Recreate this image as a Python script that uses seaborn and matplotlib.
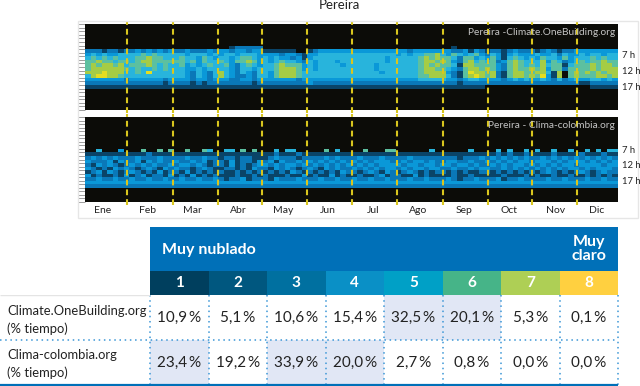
import numpy as np
import matplotlib
matplotlib.use('Agg')
import matplotlib.pyplot as plt
from matplotlib.colors import ListedColormap
from matplotlib.patches import Rectangle
import seaborn as sns

W, H = 640, 386

# Datos
meses = ['Ene', 'Feb', 'Mar', 'Abr', 'May', 'Jun', 'Jul', 'Ago', 'Sep', 'Oct', 'Nov', 'Dic']
dias_lineas = [29, 60, 91, 121, 152, 183, 214, 245, 276, 306, 337]
horas = ['7 h', '12 h', '17 h']

# cobertura de nubes, filas = horas, 8 columnas por mes
satelite_hora_ini = 6
satelite = [
    '00000000 00000000 00000000 00122222 00000000 00000000 00000000 00000000 00100000 00000000 00000000 00000000',
    '22212212 23232323 22322232 33233233 11111100 12333333 33333333 33233333 33223132 12212322 21232122 33333333',
    '34343344 44545444 44344434 34434443 33323321 33444444 44444444 34344556 43543453 24313433 34334243 34344344',
    '45454544 45565544 45443543 44345543 43433231 34444444 44444434 44445656 55425534 35314543 43544353 44454544',
    '55655455 45665555 55453544 54355653 43454432 43444344 44444434 44445665 65325645 45235654 44635423 45455655',
    '56566564 55565454 45343454 45324543 44565553 43444434 44443444 44445656 55416655 55325654 54645514 55565665',
    '56666665 45445454 44334344 44324434 44566653 43444444 44443444 44445665 54325665 65325655 65635525 55565666',
    '66676664 45474444 44324324 64324324 43566654 44444444 44444344 44445666 63215766 56215665 56641605 65656566',
    '46776654 44444444 44324324 64322324 43566654 44444444 44444444 44445566 64215676 56215665 65731605 65556656',
    '33333332 33333323 33323323 33223323 33333323 33333333 33333333 33334444 43323443 33323434 33432423 43344343',
    '22222222 22222212 22212122 22222212 22222222 32222222 22222222 22222222 22212222 22222222 22222222 21122222',
    '11111111 11111111 11111111 11111111 11111111 11111111 11111111 11111111 11111111 00000000 00000000 00011111',
]
colombia_hora_ini = 9
colombia = [
    '00400030 00500505 00500540 04405050 00404400 00050400 00500055 00000040 00000400 00404004 04004004 00404044',
    '11111111 11121111 11111111 11111111 11211121 11111111 11111111 11111111 11111111 11212112 11112111 12111211',
    '23232322 23222322 22322322 12212211 12322212 22232322 23222322 22322222 22212223 23232323 22323232 32323232',
    '32223132 23132322 32232312 21312213 23132232 32323232 32323332 23233232 23322322 32323233 23332323 33232323',
    '21323212 32323223 23323212 21312123 32323323 23232323 23232333 32332332 33233232 23232332 32323233 23333233',
    '32121323 21232132 32212321 12212132 21323212 32132322 32323233 23233233 22322323 32232323 23232323 32323332',
    '12313212 32121312 21312121 21121212 12121321 21212132 21232132 12321212 21212112 21212121 21232121 23212322',
    '31211213 12312213 12131212 11121121 21112113 12113121 12112312 21131211 11211211 11121112 12112112 11212121',
    '22322322 32232232 23223223 21223122 21322232 22322322 32232232 22322322 23212232 22312232 22232232 22322322',
    '33333333 33333333 33333333 33333333 33333333 33333333 33333333 33333333 33333333 33333333 33333333 33333333',
    '22222222 22222222 22222222 22222222 22222222 22222222 22222222 22222222 22222222 22222222 22222222 22222222',
]

categorias = ['1', '2', '3', '4', '5', '6', '7', '8']
fuentes = ['Climate.OneBuilding.org\n(% tiempo)', 'Clima-colombia.org\n(% tiempo)']
valores_onebuilding = [10.9, 5.1, 10.6, 15.4, 32.5, 20.1, 5.3, 0.1]
valores_colombia = [23.4, 19.2, 33.9, 20.0, 2.7, 0.8, 0.0, 0.0]

# Colores
colores_mapa = ['#0c0c08', '#0a4468', '#0a78b8', '#0a98d8', '#28b4dc', '#5cc0a0', '#a5cc45', '#e4dd20']
colores_cat = ['#003f5e', '#00577f', '#0070a0', '#0a90c6', '#00a0c6', '#46b488', '#aecf55', '#ffd040']
azul = '#0070b8'
punteado = '#3a96d6'

sns.set_theme(style='white')
plt.rcParams['font.family'] = ['Lato', 'DejaVu Sans']

fig = plt.figure(figsize=(W / 100, H / 100), dpi=100)


def eje(x0, y0, x1, y1):
    return fig.add_axes([x0 / W, 1 - y1 / H, (x1 - x0) / W, (y1 - y0) / H])


def texto(x, y, s, **kw):
    kw.setdefault('color', '#222222')
    fig.text(x / W, 1 - y / H, s, **kw)


def matriz(filas, hora_ini):
    grid = np.zeros((24, 96), dtype=int)
    for i, fila in enumerate(filas):
        grid[hora_ini + i] = [int(c) for c in fila.replace(' ', '')]
    return grid


def mapa(y0, y1, filas, hora_ini, rotulo, xr):
    ax = eje(85, y0, 618, y1)
    sns.heatmap(matriz(filas, hora_ini), ax=ax, cmap=ListedColormap(colores_mapa), vmin=0, vmax=7,
                cbar=False, xticklabels=False, yticklabels=False)
    for d in dias_lineas:
        ax.axvline(d * 96 / 365, ymin=-0.03, ymax=1.03, color='#d9c61e', lw=1.5, dashes=(2.8, 1.9), clip_on=False)
    ax.set_yticks(np.arange(0, 24.5, 1))
    ax.tick_params(axis='y', left=True, length=5, width=0.5, color='#777777', pad=0)
    ax.set_yticklabels([])
    ax.text(xr, 0.9, rotulo, transform=ax.transAxes, ha='right', va='center', fontsize=7.3, color='#c4c4c4')
    return ax


# Marco de la figura superior
fig.add_artist(Rectangle((78 / W, 1 - 218 / H), 560 / W, 197 / H, transform=fig.transFigure,
                         fill=False, ec='#e6e6e6', lw=1))

texto(339, 5, 'Pereira', ha='center', va='center', fontsize=9.5)
mapa(24, 110, satelite, satelite_hora_ini, 'Pereira -Climate.OneBuilding.org', 0.995)
mapa(117, 202, colombia, colombia_hora_ini, 'Pereira - Clima-colombia.org', 0.993)

pos_mes = [103, 148, 192, 238, 283, 328, 373, 418, 464, 509, 556, 597]
for x, m in zip(pos_mes, meses):
    texto(x, 210, m, ha='center', va='center', fontsize=7.5)
for ys in ([56, 72, 87], [150, 165.5, 181]):
    for y, h in zip(ys, horas):
        texto(622, y, h, ha='left', va='center', fontsize=6.8)

# Tabla: encabezado
ax_h = eje(150, 227, 618, 271)
ax_h.set_facecolor(azul)
ax_h.set_xticks([])
ax_h.set_yticks([])
sns.despine(ax=ax_h, left=True, bottom=True)
texto(162, 250, 'Muy nublado', color='white', fontsize=11.5, fontweight='bold', va='center')
texto(589, 249, 'Muy\nclaro', color='white', fontsize=11.5, fontweight='bold', va='center', ha='center',
      linespacing=1.05)

# Tabla: fila de categorias
ax_c = eje(150, 271, 618, 295)
sns.heatmap(np.arange(8).reshape(1, 8), ax=ax_c, cmap=ListedColormap(colores_cat), cbar=False,
            annot=np.array([categorias]), fmt='', xticklabels=False, yticklabels=False,
            annot_kws={'color': 'white', 'fontsize': 11, 'fontweight': 'bold'})

# Tabla: valores
valores = np.array([valores_onebuilding, valores_colombia])
etiquetas = np.array([[f'{v:.1f}'.replace('.', ',') + '\u2009%' for v in fila] for fila in valores])
ax_v = eje(150, 295, 618, 385)
sns.heatmap((valores >= 20).astype(int), ax=ax_v, cmap=ListedColormap(['white', '#e1e7f5']), vmin=0, vmax=1,
            cbar=False, annot=etiquetas, fmt='', xticklabels=False, yticklabels=False,
            annot_kws={'color': '#222222', 'fontsize': 11})
ax_v.vlines(np.arange(0, 9), 0, 2, color=punteado, lw=1.1, linestyles=(0, (1, 2.4)), clip_on=False)

# Lineas horizontales y rotulos de fila
ax_l = eje(0, 295, 618, 386)
ax_l.set_xlim(0, 618)
ax_l.set_ylim(91, 0)
ax_l.axis('off')
ax_l.patch.set_alpha(0)
ax_l.hlines(0, 0, 150, color='#e4e4e4', lw=1)
ax_l.hlines(45, 0, 618, color=punteado, lw=1.1, linestyles=(0, (1, 2.4)))
ax_l.hlines(90, 0, 618, color=azul, lw=1.6)

for y, s in zip([320, 364], fuentes):
    texto(7, y, s, ha='left', va='center', fontsize=9.4, linespacing=1.55)

fig.savefig('out.png', dpi=100)
